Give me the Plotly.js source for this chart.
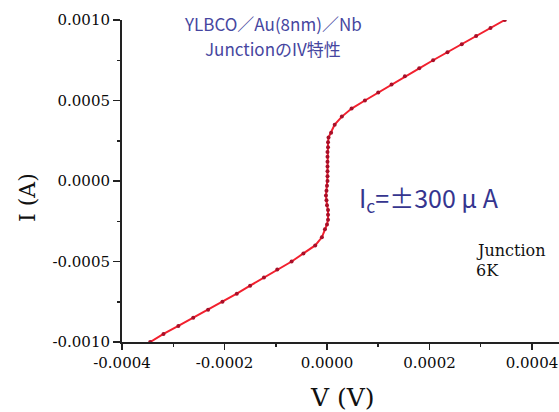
<!DOCTYPE html>
<html>
<head>
<meta charset="utf-8">
<script src="https://cdn.plot.ly/plotly-3.0.1.min.js"></script>
<style>
  html, body { margin: 0; padding: 0; background: #ffffff; }
  #chart { width: 559px; height: 412px; }
</style>
</head>
<body>
<div id="chart"></div>
<script>
// Measured I-V curve of the YLBCO/Au(8nm)/Nb junction at 6 K
const voltage = [
  -0.000345, -0.000319, -0.000290, -0.000261, -0.000232, -0.000204, -0.000176,
  -0.000150, -0.000123, -0.000097, -0.000069, -0.000046, -0.000023, -0.000010,
  -0.000004, 0.000000, 0.000002, 0.000002, 0.000002, 0.000000, -0.000001,
  -0.000002, -0.000001, 0.000000, 0.000001, 0.000001, 0.000001, 0.000001,
  0.000001, 0.000001, 0.000001, 0.000002, 0.000002, 0.000003,
  0.000008, 0.000015, 0.000029, 0.000048, 0.000074, 0.000100, 0.000126,
  0.000152, 0.000180, 0.000207, 0.000235, 0.000263, 0.000291, 0.000319, 0.000347
];
const current = [
  -0.00100, -0.00095, -0.00090, -0.00085, -0.00080, -0.00075, -0.00070,
  -0.00065, -0.00060, -0.00055, -0.00050, -0.00045, -0.00040, -0.00035,
  -0.00030, -0.00027, -0.00024, -0.00021, -0.00018, -0.00015, -0.00012,
  -0.00009, -0.00006, -0.00003, 0.00000, 0.00003, 0.00006, 0.00009,
  0.00012, 0.00015, 0.00018, 0.00021, 0.00024, 0.00027,
  0.00030, 0.00035, 0.00040, 0.00045, 0.00050, 0.00055, 0.00060,
  0.00065, 0.00070, 0.00075, 0.00080, 0.00085, 0.00090, 0.00095, 0.00100
];

// Axis ticks
const xTickVals = [-0.0004, -0.0002, 0.0, 0.0002, 0.0004];
const xTickText = ["-0.0004", "-0.0002", "0.0000", "0.0002", "0.0004"];
const xMinorVals = [-0.0003, -0.0001, 0.0001, 0.0003];
const yTickVals = [-0.0010, -0.0005, 0.0, 0.0005, 0.0010];
const yTickText = ["-0.0010", "-0.0005", "0.0000", "0.0005", "0.0010"];
const yMinorVals = [-0.00075, -0.00025, 0.00025, 0.00075];

const serif = "DejaVu Serif, Liberation Serif, serif";
const jp = "Noto Sans CJK JP, Noto Sans, sans-serif";
const labelBlue = "#4646a0";

const trace = {
  x: voltage,
  y: current,
  type: "scatter",
  mode: "lines+markers",
  line: { color: "#f2202e", width: 2 },
  marker: { color: "#a80f28", size: 4 },
  hoverinfo: "skip"
};

const axisCommon = {
  showgrid: false,
  zeroline: false,
  showline: true,
  linecolor: "#222222",
  linewidth: 2,
  ticks: "outside",
  tickcolor: "#222222",
  tickwidth: 1.5,
  tickfont: { family: serif, size: 15, color: "#0a0a0a" },
  tickmode: "array",
  ticklabeloverflow: "allow"
};

const layout = {
  width: 559,
  height: 412,
  margin: { l: 122, r: 0, t: 20, b: 70 },
  paper_bgcolor: "#ffffff",
  plot_bgcolor: "#ffffff",
  showlegend: false,
  xaxis: Object.assign({}, axisCommon, {
    range: [-0.0004, 0.0004527],
    tickvals: xTickVals,
    ticktext: xTickText,
    ticklen: 6,
    minor: { tickmode: "array", tickvals: xMinorVals, ticks: "outside", ticklen: 3, tickcolor: "#222222", tickwidth: 1.5 }
  }),
  yaxis: Object.assign({}, axisCommon, {
    range: [-0.0010, 0.0010],
    tickvals: yTickVals,
    ticktext: yTickText,
    ticklen: 7,
    minor: { tickmode: "array", tickvals: yMinorVals, ticks: "outside", ticklen: 3, tickcolor: "#222222", tickwidth: 1.5 }
  }),
  annotations: [
    { text: "YLBCO／Au(8nm)／Nb", xref: "paper", yref: "paper", x: 0.3455, y: 0.9876,
      xanchor: "center", yanchor: "middle", showarrow: false,
      font: { family: jp, size: 17, color: labelBlue } },
    { text: "JunctionのIV特性", xref: "paper", yref: "paper", x: 0.3455, y: 0.910,
      xanchor: "center", yanchor: "middle", showarrow: false,
      font: { family: jp, size: 17, color: labelBlue } },
    { text: "I<sub>c</sub>=±300 μ A", xref: "paper", yref: "paper", x: 0.5378, y: 0.4472,
      xanchor: "left", yanchor: "middle", showarrow: false,
      font: { family: jp, size: 25, color: "#35358f" } },
    { text: "Junction", xref: "paper", yref: "paper", x: 0.8055, y: 0.2857,
      xanchor: "left", yanchor: "middle", showarrow: false,
      font: { family: serif, size: 16, color: "#111111" } },
    { text: "6K", xref: "paper", yref: "paper", x: 0.8055, y: 0.2236,
      xanchor: "left", yanchor: "middle", showarrow: false,
      font: { family: serif, size: 16, color: "#111111" } },
    { text: "V (V)", xref: "paper", yref: "paper", x: 0.5057, y: -0.1739,
      xanchor: "center", yanchor: "middle", showarrow: false,
      font: { family: serif, size: 25, color: "#111111" } },
    { text: "I (A)", xref: "paper", yref: "paper", x: -0.2174, y: 0.4503,
      xanchor: "center", yanchor: "middle", showarrow: false, textangle: -90,
      font: { family: serif, size: 22, color: "#111111" } }
  ]
};

Plotly.newPlot("chart", [trace], layout, { staticPlot: true, displayModeBar: false });
</script>
</body>
</html>
